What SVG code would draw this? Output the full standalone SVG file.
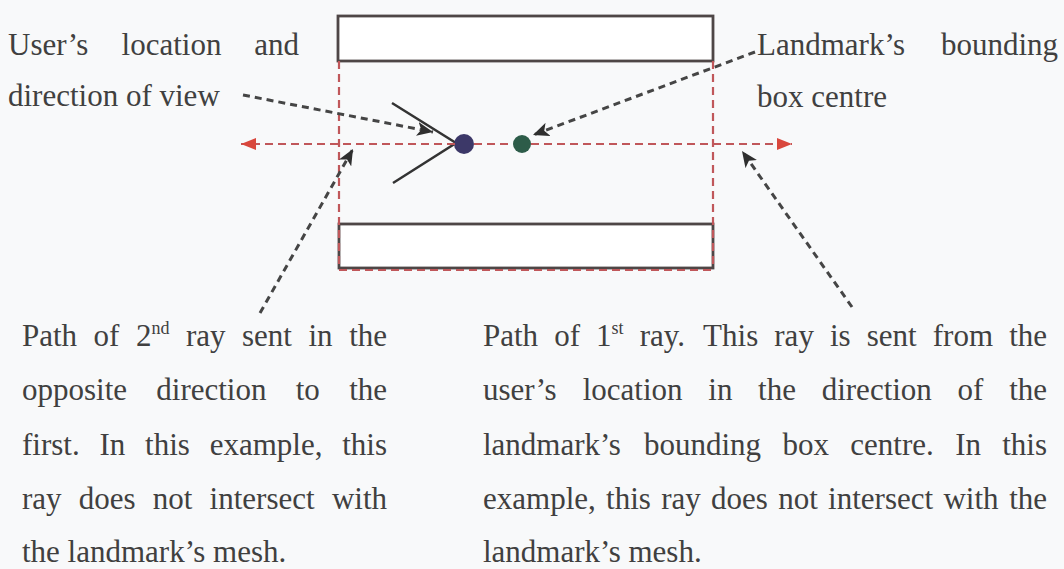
<svg xmlns="http://www.w3.org/2000/svg" width="1064" height="569" viewBox="0 0 1064 569">
<style>
.t{font-family:"Liberation Serif","Times New Roman",serif;font-size:31px;fill:#404040}
.sup{font-family:"Liberation Serif","Times New Roman",serif;font-size:18px;fill:#404040}
.box{fill:#ffffff;stroke:#4e4646;stroke-width:2.8}
.red{fill:none;stroke:#c0575a;stroke-width:2.2;stroke-dasharray:8 5}
.ptr{fill:none;stroke:#454545;stroke-width:3;stroke-dasharray:7 5}
</style>
<defs>
<marker id="ah" markerUnits="userSpaceOnUse" markerWidth="18" markerHeight="14" refX="16" refY="7" orient="auto">
<path d="M0,0 L16,7 L0,14 L4,7 Z" fill="#2f2f2f"/>
</marker>
<marker id="rh" markerUnits="userSpaceOnUse" markerWidth="16" markerHeight="14" refX="15" refY="7" orient="auto">
<path d="M0,1 L15,7 L0,13 Z" fill="#d9473c"/>
</marker>
</defs>
<rect width="1064" height="569" fill="#f8f9fa"/>

<g id="top-box"><rect class="box" x="338" y="16" width="375" height="45"/></g>
<g id="bottom-box"><rect class="box" x="339" y="224" width="374" height="44"/></g>

<g id="bounding-box">
<path class="red" d="M339,61 V268 M713,61 V268 M339,270 H713"/>
</g>

<g id="user">
<path d="M392,103 L456,143 L393,183" fill="none" stroke="#333333" stroke-width="2.5"/>
<circle cx="464" cy="144" r="10" fill="#3c3868"/>
</g>
<g id="landmark-centre"><circle cx="522" cy="144" r="9" fill="#2d5c49"/></g>

<g id="connectors">
<path class="red" d="M474,144 H513" stroke="#d28a8c"/>
<path class="red" d="M455,144 H241" marker-end="url(#rh)"/>
<path class="red" d="M531,144 H792" marker-end="url(#rh)"/>
<path class="ptr" d="M243,95 L433,132" marker-end="url(#ah)"/>
<path class="ptr" d="M755,52 L533,135" marker-end="url(#ah)"/>
<path class="ptr" d="M260,313 L353,149" marker-end="url(#ah)"/>
<path class="ptr" d="M852,307 L742,151" marker-end="url(#ah)"/>
</g>

<g id="label-user">
<text class="t" x="8" y="55">User’s</text>
<text class="t" x="121.6" y="55">location</text>
<text class="t" x="299" y="55" text-anchor="end">and</text>
<text class="t" x="8" y="106">direction of view</text>
</g>

<g id="label-landmark">
<text class="t" x="757" y="55">Landmark’s</text>
<text class="t" x="1058" y="55" text-anchor="end">bounding</text>
<text class="t" x="757" y="107">box centre</text>
</g>

<g id="label-ray2">
<text class="t" x="22" y="346">Path</text>
<text class="t" x="93.6" y="346">of</text>
<text class="t" x="135.9" y="346">2</text>
<text class="sup" x="151.4" y="334">nd</text>
<text class="t" x="185.9" y="346">ray</text>
<text class="t" x="242" y="346">sent</text>
<text class="t" x="308.4" y="346">in</text>
<text class="t" x="387" y="346" text-anchor="end">the</text>

<text class="t" x="22" y="400">opposite</text>
<text class="t" x="156.3" y="400">direction</text>
<text class="t" x="295.7" y="400">to</text>
<text class="t" x="387" y="400" text-anchor="end">the</text>

<text class="t" x="22" y="454.5">first.</text>
<text class="t" x="99.5" y="454.5">In</text>
<text class="t" x="145.1" y="454.5">this</text>
<text class="t" x="209.7" y="454.5">example,</text>
<text class="t" x="387" y="454.5" text-anchor="end">this</text>

<text class="t" x="22" y="508.5">ray</text>
<text class="t" x="78.8" y="508.5">does</text>
<text class="t" x="152.8" y="508.5">not</text>
<text class="t" x="209.6" y="508.5">intersect</text>
<text class="t" x="387" y="508.5" text-anchor="end">with</text>

<text class="t" x="22" y="562">the landmark’s mesh.</text>
</g>

<g id="label-ray1">
<text class="t" x="483" y="346">Path</text>
<text class="t" x="554.2" y="346">of</text>
<text class="t" x="596.1" y="346">1</text>
<text class="sup" x="611.6" y="334">st</text>
<text class="t" x="639.7" y="346">ray.</text>
<text class="t" x="703.1" y="346">This</text>
<text class="t" x="774.3" y="346">ray</text>
<text class="t" x="830" y="346">is</text>
<text class="t" x="866.8" y="346">sent</text>
<text class="t" x="932.8" y="346">from</text>
<text class="t" x="1047" y="346" text-anchor="end">the</text>

<text class="t" x="483" y="400">user’s</text>
<text class="t" x="582.7" y="400">location</text>
<text class="t" x="708.3" y="400">in</text>
<text class="t" x="758.1" y="400">the</text>
<text class="t" x="821.7" y="400">direction</text>
<text class="t" x="957.6" y="400">of</text>
<text class="t" x="1047" y="400" text-anchor="end">the</text>

<text class="t" x="483" y="454.5">landmark’s</text>
<text class="t" x="643.9" y="454.5">bounding</text>
<text class="t" x="782.4" y="454.5">box</text>
<text class="t" x="850.3" y="454.5">centre.</text>
<text class="t" x="955.2" y="454.5">In</text>
<text class="t" x="1047" y="454.5" text-anchor="end">this</text>

<text class="t" x="483" y="508.5">example,</text>
<text class="t" x="606.1" y="508.5">this</text>
<text class="t" x="661.2" y="508.5">ray</text>
<text class="t" x="711.1" y="508.5">does</text>
<text class="t" x="778.2" y="508.5">not</text>
<text class="t" x="828.1" y="508.5">intersect</text>
<text class="t" x="943.4" y="508.5">with</text>
<text class="t" x="1047" y="508.5" text-anchor="end">the</text>

<text class="t" x="483" y="562">landmark’s mesh.</text>
</g>
</svg>
